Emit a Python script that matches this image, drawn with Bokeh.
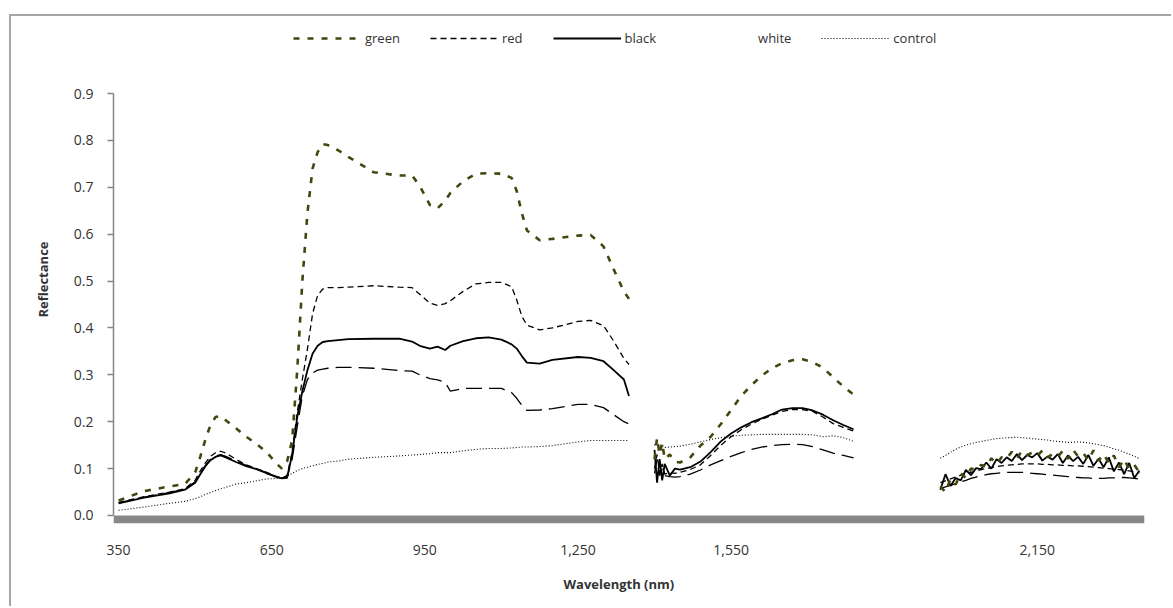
from bokeh.plotting import figure
from bokeh.models import (Range1d, FixedTicker, NumeralTickFormatter, PrintfTickFormatter,
                          Legend, LegendItem, Title)
from bokeh.embed import file_html
from bokeh.resources import INLINE

# ---- spectral reflectance data (water absorption bands left out) ----
wl_vis = [350, 400, 450, 480, 500, 510, 520, 530, 540, 550, 560, 580, 600, 620, 640,
          660, 670, 680, 690, 700, 710, 720, 730, 740, 750, 760, 780, 800, 850, 900,
          925, 940, 960, 975, 990, 1000, 1025, 1050, 1075, 1100, 1120, 1130, 1140, 1150,
          1175, 1200, 1250, 1275, 1300, 1320, 1340, 1350]
wl_swir1 = [1400, 1405, 1410, 1415, 1420, 1430, 1440, 1450, 1470, 1490, 1510, 1530, 1550,
            1570, 1590, 1610, 1630, 1650, 1670, 1690, 1710, 1730, 1750, 1770, 1790]
wl_swir2 = [1960, 1970, 1980, 1990, 2000, 2010, 2020, 2030, 2040, 2050,
            2060, 2070, 2080, 2090, 2100, 2110, 2120, 2130, 2140, 2150,
            2160, 2170, 2180, 2190, 2200, 2210, 2220, 2230, 2240, 2250,
            2260, 2270, 2280, 2290, 2300, 2310, 2320, 2330, 2340, 2350]

green_vis = [0.032, 0.052, 0.062, 0.067, 0.092, 0.125, 0.162, 0.193, 0.210, 0.212,
             0.203, 0.186, 0.168, 0.153, 0.135, 0.110, 0.100, 0.115, 0.160, 0.310,
             0.500, 0.645, 0.740, 0.775, 0.792, 0.790, 0.779, 0.765, 0.732, 0.725,
             0.725, 0.703, 0.662, 0.655, 0.672, 0.688, 0.713, 0.729, 0.730, 0.729,
             0.720, 0.692, 0.645, 0.608, 0.587, 0.590, 0.597, 0.598, 0.574, 0.525,
             0.478, 0.462]
red_vis = [0.028, 0.040, 0.050, 0.057, 0.075, 0.095, 0.112, 0.126, 0.134, 0.137,
           0.133, 0.120, 0.108, 0.100, 0.092, 0.083, 0.080, 0.085, 0.135, 0.220,
           0.290, 0.355, 0.430, 0.470, 0.483, 0.486, 0.486, 0.487, 0.490, 0.487,
           0.486, 0.472, 0.453, 0.448, 0.452, 0.458, 0.478, 0.494, 0.497, 0.497,
           0.488, 0.460, 0.425, 0.406, 0.396, 0.400, 0.414, 0.416, 0.405, 0.372,
           0.335, 0.322]
black_vis = [0.026, 0.038, 0.047, 0.055, 0.070, 0.088, 0.105, 0.118, 0.125, 0.128,
             0.124, 0.114, 0.105, 0.099, 0.090, 0.082, 0.079, 0.080, 0.130, 0.210,
             0.265, 0.310, 0.345, 0.362, 0.370, 0.372, 0.374, 0.376, 0.377, 0.377,
             0.371, 0.362, 0.356, 0.360, 0.353, 0.362, 0.372, 0.378, 0.380, 0.375,
             0.365, 0.356, 0.340, 0.326, 0.324, 0.332, 0.338, 0.336, 0.329, 0.310,
             0.290, 0.255]
white_vis = [0.027, 0.039, 0.049, 0.056, 0.072, 0.090, 0.107, 0.120, 0.127, 0.130,
             0.126, 0.116, 0.107, 0.100, 0.091, 0.083, 0.080, 0.082, 0.120, 0.190,
             0.255, 0.290, 0.304, 0.310, 0.312, 0.314, 0.316, 0.316, 0.314, 0.309,
             0.308, 0.300, 0.292, 0.289, 0.284, 0.265, 0.271, 0.271, 0.271, 0.271,
             0.262, 0.250, 0.235, 0.224, 0.225, 0.228, 0.237, 0.237, 0.230, 0.215,
             0.200, 0.195]
control_vis = [0.011, 0.018, 0.026, 0.030, 0.036, 0.040, 0.045, 0.049, 0.053, 0.057,
               0.060, 0.067, 0.070, 0.074, 0.078, 0.079, 0.079, 0.083, 0.090, 0.096,
               0.100, 0.103, 0.106, 0.109, 0.111, 0.114, 0.116, 0.120, 0.124, 0.127,
               0.129, 0.130, 0.132, 0.134, 0.134, 0.134, 0.138, 0.141, 0.143, 0.143,
               0.144, 0.145, 0.146, 0.146, 0.147, 0.149, 0.157, 0.160, 0.160, 0.160,
               0.160, 0.160]

green_swir1 = [0.120, 0.165, 0.130, 0.155, 0.120, 0.130, 0.115, 0.113, 0.124, 0.149,
               0.168, 0.195, 0.225, 0.255, 0.278, 0.298, 0.314, 0.325, 0.331, 0.333,
               0.327, 0.315, 0.295, 0.275, 0.258]
red_swir1 = [0.100, 0.130, 0.090, 0.110, 0.088, 0.092, 0.090, 0.092, 0.098, 0.108,
             0.128, 0.150, 0.168, 0.183, 0.195, 0.205, 0.214, 0.222, 0.226, 0.226,
             0.222, 0.210, 0.196, 0.188, 0.180]
black_swir1 = [0.140, 0.070, 0.120, 0.075, 0.110, 0.085, 0.100, 0.098, 0.103, 0.115,
               0.135, 0.158, 0.175, 0.188, 0.199, 0.207, 0.216, 0.226, 0.229, 0.229,
               0.224, 0.215, 0.203, 0.193, 0.184]
white_swir1 = [0.090, 0.120, 0.085, 0.100, 0.085, 0.083, 0.082, 0.083, 0.088, 0.097,
               0.108, 0.117, 0.126, 0.134, 0.141, 0.146, 0.149, 0.151, 0.152, 0.151,
               0.147, 0.140, 0.133, 0.128, 0.123]
control_swir1 = [0.150, 0.160, 0.140, 0.150, 0.145, 0.146, 0.147, 0.148, 0.152, 0.157,
                 0.162, 0.166, 0.169, 0.171, 0.172, 0.173, 0.173, 0.173, 0.173, 0.173,
                 0.172, 0.168, 0.170, 0.166, 0.158]

green_swir2 = [0.062, 0.050, 0.078, 0.066, 0.090, 0.080, 0.100, 0.097, 0.108, 0.104,
               0.122, 0.110, 0.124, 0.121, 0.136, 0.122, 0.138, 0.129, 0.134, 0.127,
               0.139, 0.124, 0.131, 0.125, 0.138, 0.121, 0.140, 0.126, 0.133, 0.118,
               0.139, 0.117, 0.131, 0.112, 0.128, 0.103, 0.120, 0.099, 0.108, 0.092]
red_swir2 = [0.070, 0.074, 0.078, 0.082, 0.086, 0.089, 0.092, 0.095, 0.098, 0.100,
             0.102, 0.104, 0.106, 0.107, 0.108, 0.109, 0.110, 0.110, 0.110, 0.110,
             0.109, 0.109, 0.108, 0.108, 0.107, 0.107, 0.106, 0.106, 0.105, 0.104,
             0.103, 0.102, 0.101, 0.100, 0.099, 0.098, 0.097, 0.095, 0.093, 0.091]
black_swir2 = [0.055, 0.088, 0.063, 0.080, 0.075, 0.097, 0.086, 0.101, 0.099, 0.113,
               0.100, 0.120, 0.112, 0.124, 0.116, 0.131, 0.118, 0.129, 0.124, 0.133,
               0.117, 0.126, 0.119, 0.131, 0.112, 0.128, 0.116, 0.125, 0.110, 0.129,
               0.106, 0.121, 0.103, 0.124, 0.094, 0.113, 0.088, 0.112, 0.080, 0.096]
white_swir2 = [0.058, 0.061, 0.064, 0.068, 0.072, 0.075, 0.079, 0.082, 0.085, 0.087,
               0.089, 0.090, 0.091, 0.092, 0.092, 0.092, 0.092, 0.091, 0.090, 0.089,
               0.088, 0.087, 0.086, 0.085, 0.084, 0.083, 0.082, 0.081, 0.080, 0.080,
               0.079, 0.079, 0.079, 0.080, 0.080, 0.081, 0.081, 0.080, 0.079, 0.078]
control_swir2 = [0.122, 0.128, 0.135, 0.141, 0.146, 0.150, 0.153, 0.156, 0.158, 0.160,
                 0.162, 0.164, 0.165, 0.166, 0.166, 0.167, 0.166, 0.165, 0.164, 0.163,
                 0.162, 0.161, 0.159, 0.158, 0.157, 0.156, 0.156, 0.157, 0.156, 0.155,
                 0.153, 0.151, 0.149, 0.146, 0.142, 0.139, 0.135, 0.131, 0.126, 0.121]

x_ticks = [350, 650, 950, 1250, 1550, 2150]
y_ticks = [0.0, 0.1, 0.2, 0.3, 0.4, 0.5, 0.6, 0.7, 0.8, 0.9]

NAN = float("nan")


def joined(a, b, c):
    """Concatenate three spectral segments with breaks between them."""
    return list(a) + [NAN] + list(b) + [NAN] + list(c)


wl_all = joined(wl_vis, wl_swir1, wl_swir2)

FONT = "Open Sans"
TEXT = "#333333"
AXIS_GRAY = "#868686"
X0, X1 = 340, 2360
# the frame reaches up to hold the key; the value axis itself stops at 0.9
Y0, Y1 = -0.0171, 1.06

p = figure(width=1162, height=592, output_backend="svg", toolbar_location=None,
           x_range=Range1d(X0, X1), y_range=Range1d(Y0, Y1),
           min_border_left=102, min_border_right=29, min_border_top=2,
           min_border_bottom=85)
p.margin = (14, 0, 0, 9)
p.styles = {"border-left": "2px solid #a6a6a6", "border-top": "2px solid #a6a6a6"}
p.background_fill_color = "white"
p.border_fill_color = "white"
p.outline_line_color = None
p.xgrid.visible = False
p.ygrid.visible = False

# y axis
p.yaxis.ticker = FixedTicker(ticks=y_ticks)
p.yaxis.bounds = (0.0, 0.9)
p.yaxis.formatter = PrintfTickFormatter(format="%.1f")
p.yaxis.axis_line_color = AXIS_GRAY
p.yaxis.axis_line_width = 1.5
p.yaxis.major_tick_line_color = AXIS_GRAY
p.yaxis.major_tick_line_width = 1.5
p.yaxis.major_tick_out = 6
p.yaxis.major_tick_in = 0
p.yaxis.minor_tick_line_color = None
p.yaxis.major_label_standoff = 14
p.yaxis.major_label_text_font = FONT
p.yaxis.major_label_text_font_size = "14px"
p.yaxis.major_label_text_color = TEXT

# x axis: labels only, the floor bar is drawn separately
p.xaxis.ticker = FixedTicker(ticks=x_ticks)
p.xaxis.formatter = NumeralTickFormatter(format="0,0")
p.xaxis.axis_line_color = None
p.xaxis.major_tick_line_color = None
p.xaxis.minor_tick_line_color = None
p.xaxis.major_label_standoff = 15
p.xaxis.major_label_text_font = FONT
p.xaxis.major_label_text_font_size = "14px"
p.xaxis.major_label_text_color = TEXT

# thick grey floor along the x axis
p.quad(left=X0, right=X1, bottom=Y0, top=0.0, fill_color="#888888", line_color=None)

# spectra
r_control = p.line(wl_all, joined(control_vis, control_swir1, control_swir2),
                   line_color="black", line_width=1.1, line_dash="1 2")
r_white = p.line(wl_all, joined(white_vis, white_swir1, white_swir2),
                 line_color="black", line_width=1.3, line_dash="16 7")
r_red = p.line(wl_all, joined(red_vis, red_swir1, red_swir2),
               line_color="black", line_width=1.3, line_dash="6 4")
r_black = p.line(wl_all, joined(black_vis, black_swir1, black_swir2),
                 line_color="black", line_width=1.8)
r_green = p.line(wl_all, joined(green_vis, green_swir1, green_swir2),
                 line_color="#45450f", line_width=2.6, line_dash="6 8")
# the "white" key is shown with a white sample line
r_white_key = p.line([], [], line_color="white", line_width=1.3)

legend = Legend(items=[
    LegendItem(label="green", renderers=[r_green]),
    LegendItem(label="red", renderers=[r_red]),
    LegendItem(label="black", renderers=[r_black]),
    LegendItem(label="white", renderers=[r_white_key]),
    LegendItem(label="control", renderers=[r_control]),
], orientation="horizontal", location=(180, 476))
legend.glyph_width = 68
legend.glyph_height = 14
legend.label_height = 14
legend.label_standoff = 4
legend.spacing = 30
legend.padding = 0
legend.margin = 0
legend.border_line_color = None
legend.background_fill_alpha = 0
legend.label_text_font = FONT
legend.label_text_font_size = "13px"
legend.label_text_color = TEXT
p.add_layout(legend)

# axis titles
p.add_layout(Title(text="Reflectance", align="left", offset=206, standoff=38,
                   text_font=FONT, text_font_size="13px", text_font_style="bold",
                   text_color=TEXT), "left")
p.add_layout(Title(text="Wavelength (nm)", align="left", offset=450, standoff=30,
                   text_font=FONT, text_font_size="13px", text_font_style="bold",
                   text_color=TEXT), "below")

open("out.html", "w").write(file_html(p, INLINE))
